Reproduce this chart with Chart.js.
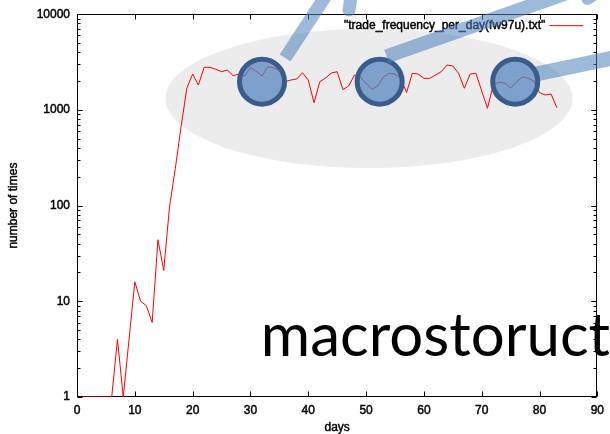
<!DOCTYPE html>
<html>
<head>
<meta charset="utf-8">
<script src="https://cdn.jsdelivr.net/npm/chart.js@4.4.1/dist/chart.umd.min.js"></script>
<style>
  html, body { margin: 0; padding: 0; background: #fff; }
  #wrap { position: relative; width: 610px; height: 434px; }
</style>
</head>
<body>
<div id="wrap"><canvas id="c"></canvas></div>
<script>
// ─── Data ────────────────────────────────────────────────────────────────────

const seriesLabel = '"trade_frequency_per_day(fw97u).txt"';
const days = [];
for (let d = 1; d <= 83; d++) days.push(d);
const counts = [
  1, 1, 1, 1, 1, 1, 4, 1, 4, 16,
  10, 9, 6, 44, 21, 97, 243, 667, 1683, 2371,
  1820, 2786, 2786, 2656, 2507, 2612, 2277, 2371, 2260, 2780,
  2530, 2260, 2827, 2750, 2594, 1972, 2052, 2100, 2448, 2052,
  1189, 1972, 2154, 2430, 2507, 1630, 1778, 2316, 2200, 1897,
  1641, 1778, 2208, 2412, 2371, 2138, 1513, 2412, 2371, 2138,
  2138, 2316, 2507, 2944, 2877, 2412, 1683, 2371, 2412, 1580,
  1040, 1820, 1950, 1910, 1690, 1950, 2208, 2150, 2000, 1513,
  1432, 1466, 1055,
];
const xTicks = [0, 10, 20, 30, 40, 50, 60, 70, 80, 90];
const yTicks = [1, 10, 100, 1000, 10000];
const xTitle = 'days';
const yTitle = 'number of times';
const stampText = 'macrostoruct';

const FONT = "'Liberation Sans', Arial, sans-serif";
const INK = 0.45; // a little stroke so the text looks like the gd-rendered original

// ─── Overlay (placed in data units, converted through the scales) ───────────

const overlay = {
  ellipse: { day: 50.5, logv: 3.119, rxDays: 35.2, ryDec: 0.726 },
  circles: [ { day: 32.0, logv: 3.295 }, { day: 52.35, logv: 3.295 }, { day: 75.8, logv: 3.295 } ],
  bands: [
    { from: [36.0, 3.542], to: [43.45, 4.232], w: 13, cap: 'butt' },
    { from: [47.06, 4.044], to: [47.92, 4.41], w: 13, cap: 'round' },
    { from: [88.3, 4.159], to: [93.3, 4.357], w: 12, cap: 'round' },
    { from: [79.0, 3.37], to: [96.5, 3.59], w: 15, cap: 'butt' },
  ],
  topBand: { from: [53.55, 3.56], to: [84.7, 4.22], w: 14, cap: 'butt' },
};

function inkText(ctx, s, x, y) {
  ctx.fillText(s, x, y);
  ctx.lineWidth = INK;
  ctx.strokeStyle = ctx.fillStyle;
  ctx.strokeText(s, x, y);
}

const decor = {
  id: 'decor',
  beforeDatasetsDraw(chart) {
    const { ctx, chartArea: a, scales: { x, y } } = chart;
    ctx.save();

    // grey ellipse behind the curve
    const e = overlay.ellipse;
    const cx = x.getPixelForValue(e.day);
    const cy = y.getPixelForValue(Math.pow(10, e.logv));
    const rx = x.getPixelForValue(e.day + e.rxDays) - cx;
    const ry = cy - y.getPixelForValue(Math.pow(10, e.logv + e.ryDec));
    ctx.fillStyle = '#ececec';
    ctx.beginPath();
    ctx.ellipse(cx, cy, rx, ry, 0, 0, Math.PI * 2);
    ctx.fill();

    // frame + inward ticks, gnuplot style (curve goes on top)
    ctx.strokeStyle = '#000';
    ctx.lineWidth = 1;
    const L = Math.round(a.left) + 0.5, R = Math.round(a.right) - 0.5;
    const T = Math.round(a.top) + 0.5, B = Math.round(a.bottom) - 0.5;
    ctx.strokeRect(L, T, R - L, B - T);
    ctx.beginPath();
    for (const t of xTicks) {
      const px = Math.round(x.getPixelForValue(t)) + 0.5;
      ctx.moveTo(px, B); ctx.lineTo(px, B - 5);
      ctx.moveTo(px, T); ctx.lineTo(px, T + 5);
    }
    for (let dec = 1; dec < 10000; dec *= 10) {
      for (let m = 1; m <= 10; m++) {
        const py = Math.round(y.getPixelForValue(dec * m)) + 0.5;
        const len = (m === 1 || m === 10) ? 5 : 3;
        ctx.moveTo(L, py); ctx.lineTo(L + len, py);
        ctx.moveTo(R, py); ctx.lineTo(R - len, py);
      }
    }
    ctx.stroke();

    // axis titles
    ctx.font = '12px ' + FONT;
    ctx.fillStyle = '#000';
    ctx.textAlign = 'center';
    ctx.textBaseline = 'middle';
    inkText(ctx, xTitle, (a.left + a.right) / 2, 428);
    ctx.save();
    ctx.translate(14, (a.top + a.bottom) / 2);
    ctx.rotate(-Math.PI / 2);
    inkText(ctx, yTitle, 0, 0);
    ctx.restore();

    // key
    ctx.textAlign = 'right';
    inkText(ctx, seriesLabel, a.right - 52, a.top + 11);
    ctx.strokeStyle = 'red';
    ctx.lineWidth = 1;
    ctx.beginPath();
    ctx.moveTo(a.right - 48, a.top + 11.5);
    ctx.lineTo(a.right - 14, a.top + 11.5);
    ctx.stroke();
    ctx.restore();
  },
  afterDatasetsDraw(chart) {
    const { ctx, scales: { x, y } } = chart;
    const P = (d, lv) => [x.getPixelForValue(d), y.getPixelForValue(Math.pow(10, lv))];
    const band = b => {
      ctx.strokeStyle = 'rgba(79,129,189,0.55)';
      ctx.lineWidth = b.w;
      ctx.lineCap = b.cap;
      ctx.beginPath(); ctx.moveTo(...P(...b.from)); ctx.lineTo(...P(...b.to)); ctx.stroke();
    };
    ctx.save();

    overlay.bands.forEach(band);

    for (const c of overlay.circles) {
      const [px, py] = P(c.day, c.logv);
      ctx.beginPath();
      ctx.arc(px, py, 22.5, 0, Math.PI * 2);
      ctx.fillStyle = 'rgba(79,129,189,0.7)';
      ctx.fill();
      ctx.lineWidth = 5;
      ctx.strokeStyle = '#385d8a';
      ctx.stroke();
    }

    band(overlay.topBand);

    // stamp text
    ctx.font = '60px Lato, sans-serif';
    ctx.fillStyle = '#000';
    ctx.textAlign = 'left';
    ctx.textBaseline = 'alphabetic';
    ctx.fillText(stampText, x.getPixelForValue(31.8), y.getPixelForValue(Math.pow(10, 0.43)));
    ctx.restore();
  },
};

// ─── Chart ───────────────────────────────────────────────────────────────────

const canvas = document.getElementById('c');
canvas.width = 610;
canvas.height = 434;

const tickFont = { family: FONT, size: 12 };

new Chart(canvas, {
  type: 'line',
  data: {
    datasets: [{
      label: seriesLabel,
      data: days.map((d, i) => ({ x: d, y: counts[i] })),
      borderColor: '#ff0000',
      borderWidth: 1,
      pointRadius: 0,
      tension: 0,
      fill: false,
    }],
  },
  options: {
    responsive: false,
    animation: false,
    layout: { padding: { top: 14, right: 9, left: 0, bottom: 0 } },
    plugins: { legend: { display: false }, tooltip: { enabled: false } },
    scales: {
      x: {
        type: 'linear',
        min: 0, max: 90,
        afterBuildTicks: s => { s.ticks = xTicks.map(v => ({ value: v })); },
        afterFit: s => { s.height = 37; },
        grid: { display: false, drawTicks: false },
        border: { display: false },
        ticks: { autoSkip: false, maxRotation: 0, padding: 6, color: '#000',
          textStrokeColor: '#000', textStrokeWidth: INK,
          font: tickFont, callback: v => String(v) },
      },
      y: {
        type: 'logarithmic',
        min: 1, max: 10000,
        afterBuildTicks: s => { s.ticks = yTicks.map(v => ({ value: v })); },
        afterFit: s => { s.width = 77; },
        grid: { display: false, drawTicks: false },
        border: { display: false },
        ticks: { autoSkip: false, padding: 7, color: '#000',
          textStrokeColor: '#000', textStrokeWidth: INK,
          font: tickFont, callback: v => String(v) },
      },
    },
  },
  plugins: [decor],
});
</script>
</body>
</html>
